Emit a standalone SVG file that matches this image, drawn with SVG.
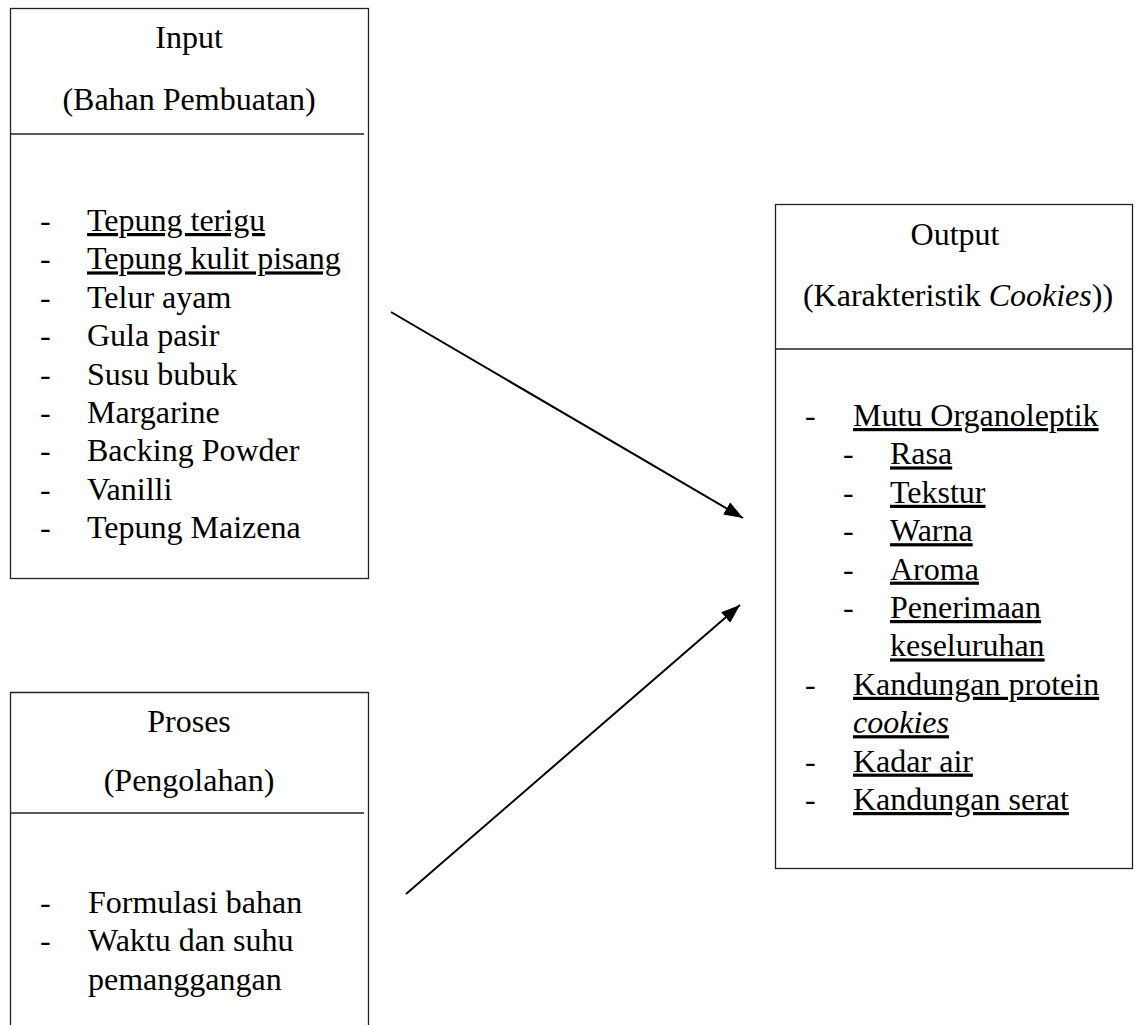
<svg xmlns="http://www.w3.org/2000/svg" width="1136" height="1025" viewBox="0 0 1136 1025">
<style>
.box{fill:none;stroke:#222;stroke-width:1.3}
.t{font-family:"Liberation Serif","Times New Roman",serif;font-size:32px;fill:#000}
.c{text-anchor:middle}
.u{text-decoration:underline}
.i{font-style:italic}
.conn{stroke:#000;stroke-width:2;fill:none}
</style>
<defs>
<marker id="ah" markerUnits="userSpaceOnUse" markerWidth="19" markerHeight="14" refX="19" refY="7" orient="auto">
<path d="M0,0 L19,7 L0,14 z" fill="#000"/>
</marker>
</defs>
<rect width="1136" height="1025" fill="#fff"/>
<g id="input">
<rect class="box" x="10.5" y="8.5" width="358" height="570"/>
<line class="box" x1="10.5" y1="134" x2="364" y2="134"/>
<text class="t c" x="189" y="48">Input</text>
<text class="t c" x="189" y="110">(Bahan Pembuatan)</text>
<g class="t">
<text x="40" y="231">-</text><text class="u" x="87" y="231">Tepung terigu</text>
<text x="40" y="269.4">-</text><text class="u" x="87" y="269.4">Tepung kulit pisang</text>
<text x="40" y="307.8">-</text><text x="87" y="307.8">Telur ayam</text>
<text x="40" y="346.2">-</text><text x="87" y="346.2">Gula pasir</text>
<text x="40" y="384.6">-</text><text x="87" y="384.6">Susu bubuk</text>
<text x="40" y="423">-</text><text x="87" y="423">Margarine</text>
<text x="40" y="461.4">-</text><text x="87" y="461.4">Backing Powder</text>
<text x="40" y="499.8">-</text><text x="87" y="499.8">Vanilli</text>
<text x="40" y="538.2">-</text><text x="87" y="538.2">Tepung Maizena</text>
</g>
</g>
<g id="proses">
<path class="box" d="M10.5,1025 V692.5 H368.5 V1025"/>
<line class="box" x1="10.5" y1="813" x2="364" y2="813"/>
<text class="t c" x="189" y="732">Proses</text>
<text class="t c" x="189" y="791">(Pengolahan)</text>
<g class="t">
<text x="40" y="913">-</text><text x="88" y="913">Formulasi bahan</text>
<text x="40" y="951.4">-</text><text x="88" y="951.4">Waktu dan suhu</text>
<text x="88" y="989.8">pemanggangan</text>
</g>
</g>
<g id="output">
<rect class="box" x="775.5" y="204.5" width="357" height="664"/>
<line class="box" x1="775.5" y1="349" x2="1132.5" y2="349"/>
<text class="t c" x="955" y="245">Output</text>
<text class="t c" x="958" y="306">(Karakteristik <tspan class="i">Cookies</tspan>))</text>
<g class="t">
<text x="805" y="426">-</text><text class="u" x="853" y="426">Mutu Organoleptik</text>
<text x="843" y="464.4">-</text><text class="u" x="890" y="464.4">Rasa</text>
<text x="843" y="502.8">-</text><text class="u" x="890" y="502.8">Tekstur</text>
<text x="843" y="541.2">-</text><text class="u" x="890" y="541.2">Warna</text>
<text x="843" y="579.6">-</text><text class="u" x="890" y="579.6">Aroma</text>
<text x="843" y="618">-</text><text class="u" x="890" y="618">Penerimaan</text>
<text class="u" x="890" y="656.4">keseluruhan</text>
<text x="805" y="694.8">-</text><text class="u" x="853" y="694.8">Kandungan protein</text>
<text class="u i" x="853" y="733.2">cookies</text>
<text x="805" y="771.6">-</text><text class="u" x="853" y="771.6">Kadar air</text>
<text x="805" y="810">-</text><text class="u" x="853" y="810">Kandungan serat</text>
</g>
</g>
<g id="connectors">
<line class="conn" x1="391" y1="312" x2="743" y2="518" marker-end="url(#ah)"/>
<line class="conn" x1="406" y1="894" x2="740" y2="605" marker-end="url(#ah)"/>
</g>
</svg>
